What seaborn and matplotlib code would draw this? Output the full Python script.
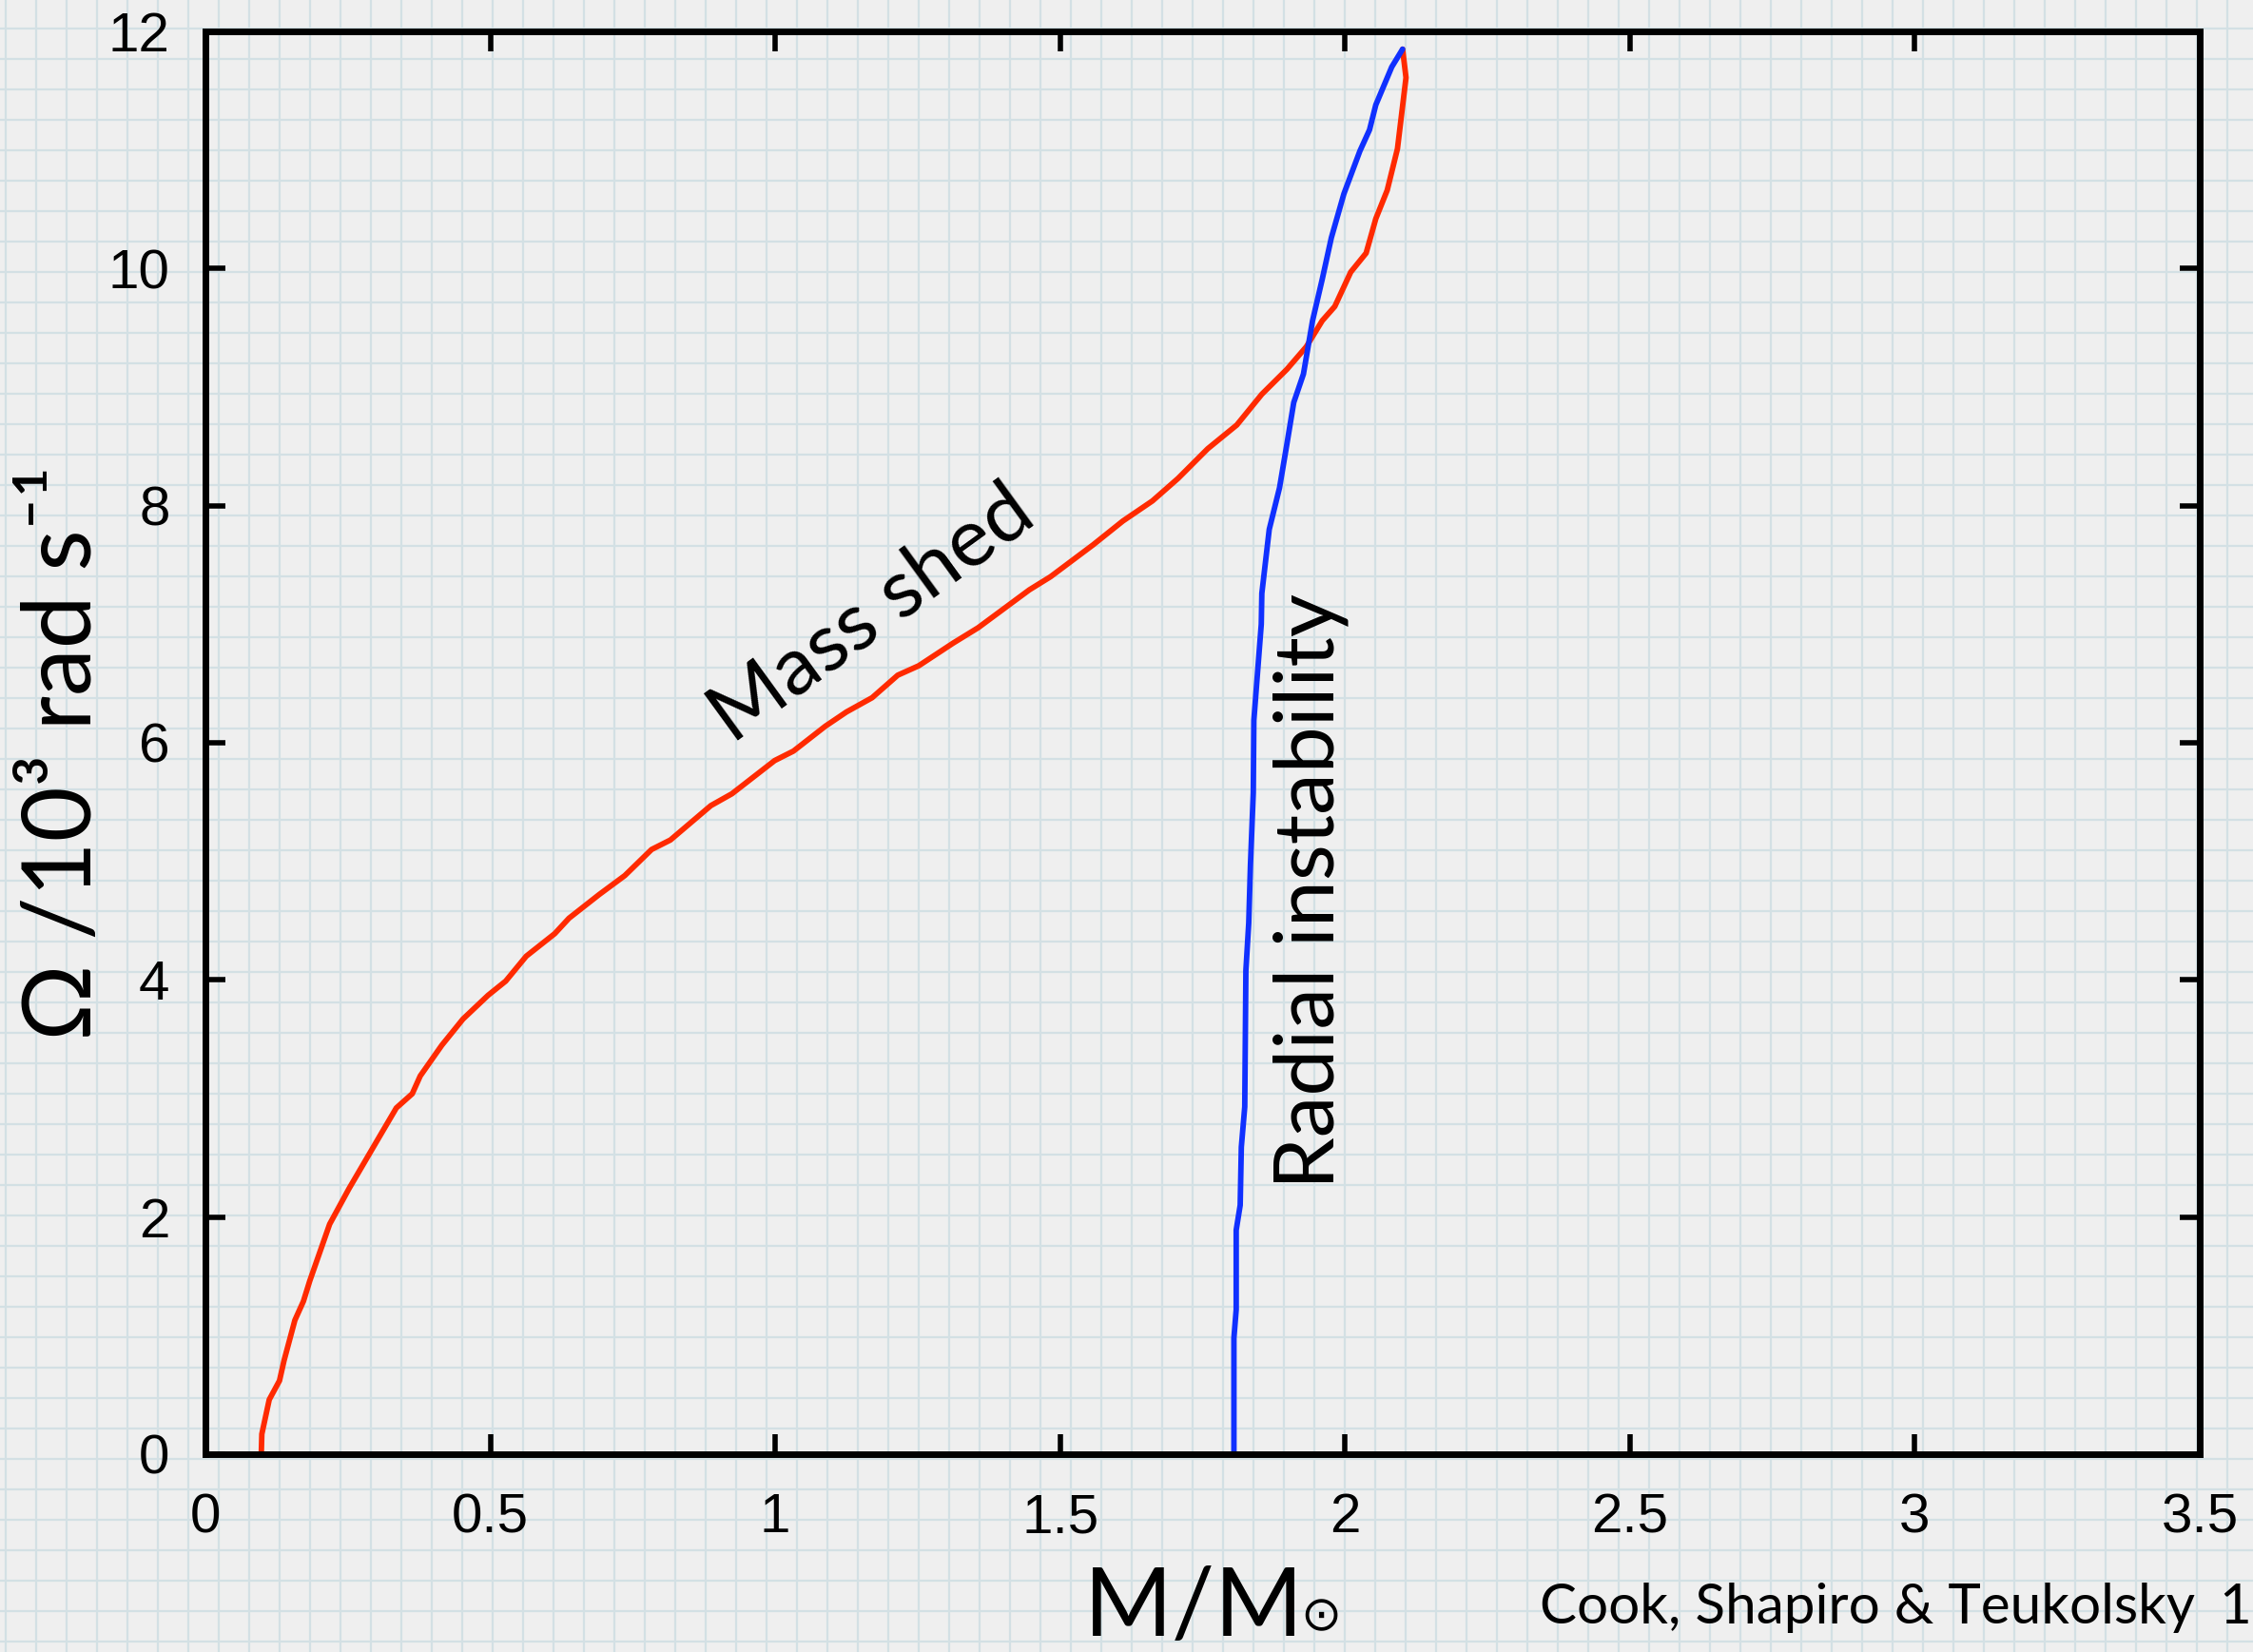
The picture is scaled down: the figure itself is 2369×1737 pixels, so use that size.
import numpy as np
import matplotlib
matplotlib.use("Agg")
import matplotlib.pyplot as plt
import seaborn as sns

# Mass-shedding limit: gravitational mass (solar masses) vs angular velocity (10^3 rad/s)
shed_mass = [0.098, 0.099, 0.112, 0.130, 0.138, 0.157, 0.172, 0.183, 0.218, 0.252,
             0.302, 0.335, 0.363, 0.377, 0.415, 0.452, 0.496, 0.527, 0.563, 0.613,
             0.638, 0.691, 0.736, 0.783, 0.816, 0.887, 0.924, 0.999, 1.032, 1.088,
             1.125, 1.170, 1.215, 1.252, 1.312, 1.356, 1.401, 1.446, 1.483, 1.558,
             1.610, 1.662, 1.707, 1.759, 1.810, 1.854, 1.898, 1.932, 1.960, 1.982,
             2.010, 2.037, 2.054, 2.074, 2.092, 2.107, 2.101]
shed_omega = [0.00, 0.17, 0.46, 0.62, 0.79, 1.13, 1.29, 1.46, 1.94, 2.24,
              2.65, 2.92, 3.04, 3.19, 3.45, 3.67, 3.87, 3.99, 4.20, 4.39,
              4.52, 4.72, 4.88, 5.10, 5.18, 5.47, 5.57, 5.85, 5.93, 6.14,
              6.26, 6.38, 6.57, 6.65, 6.84, 6.97, 7.13, 7.29, 7.40, 7.67,
              7.87, 8.04, 8.23, 8.48, 8.68, 8.94, 9.15, 9.34, 9.56, 9.68,
              9.97, 10.13, 10.42, 10.66, 11.01, 11.61, 11.85]

# Onset of radial (quasi-radial) instability
radial_mass = [1.805, 1.805, 1.809, 1.809, 1.816, 1.818, 1.824, 1.826, 1.831, 1.834,
               1.839, 1.840, 1.853, 1.854, 1.867, 1.885, 1.898, 1.910, 1.927, 1.943,
               1.960, 1.976, 1.998, 2.026, 2.043, 2.054, 2.082, 2.101]
radial_omega = [0.00, 0.98, 1.22, 1.89, 2.10, 2.59, 2.93, 4.08, 4.48, 4.97,
                5.58, 6.19, 7.00, 7.26, 7.80, 8.15, 8.52, 8.87, 9.11, 9.56,
                9.91, 10.26, 10.63, 10.99, 11.17, 11.38, 11.70, 11.85]

x_ticks = [0, 0.5, 1, 1.5, 2, 2.5, 3, 3.5]
x_tick_labels = ["0", "0.5", "1", "1.5", "2", "2.5", "3", "3.5"]
y_ticks = [0, 2, 4, 6, 8, 10, 12]
y_tick_labels = ["0", "2", "4", "6", "8", "10", "12"]

sns.set_theme(style="ticks")
plt.rcParams["font.family"] = ["Lato", "Noto Sans", "DejaVu Sans"]

W, H = 2369, 1737
fig = plt.figure(figsize=(W / 100, H / 100), dpi=100, facecolor="#efefef")

# graph-paper backdrop
bg = fig.add_axes([0, 0, 1, 1], zorder=0)
bg.set_xlim(0, W)
bg.set_ylim(H, 0)
bg.axis("off")
step = 32.0
for gx in np.arange(6.0, W, step):
    bg.axvline(gx, color="#d3e0e4", lw=1.6, zorder=0)
for gy in np.arange(30.0, H, step):
    bg.axhline(gy, color="#d3e0e4", lw=1.6, zorder=0)

left, right, top, bottom = 216 / W, 2313 / W, 33 / H, 1529 / H
ax = fig.add_axes([left, 1 - bottom, right - left, bottom - top], zorder=1)
ax.patch.set_alpha(0)

sns.lineplot(x=shed_mass, y=shed_omega, sort=False, estimator=None,
             color="#ff2a00", lw=4.2, ax=ax)
sns.lineplot(x=radial_mass, y=radial_omega, sort=False, estimator=None,
             color="#1030ff", lw=4.2, ax=ax)

ax.set_xlim(0, 3.5)
ax.set_ylim(0, 12)
ax.set_xticks(x_ticks)
ax.set_xticklabels(x_tick_labels)
ax.set_yticks(y_ticks)
ax.set_yticklabels(y_tick_labels)

for s in ax.spines.values():
    s.set_linewidth(5)
    s.set_color("black")
    s.set_visible(True)

ax.tick_params(which="major", direction="in", length=15, width=4, color="black",
               top=True, right=True, labelsize=42, labelcolor="black")
ax.tick_params(axis="y", pad=27)
ax.tick_params(axis="x", pad=29)
for lab in ax.get_xticklabels() + ax.get_yticklabels():
    lab.set_family("Liberation Sans")

ax.set_ylabel("Ω /10³ rad s⁻¹", fontsize=72, color="black", va="center", ha="center")
ax.yaxis.set_label_coords(-0.0706, 0.4926)

# x label: "M/M" followed by a small solar symbol sitting on the baseline
ax.set_xlabel("M/M", fontsize=72, color="black", va="baseline")
ax.xaxis.set_label_coords(0.4955, -0.1277)
ax.text((1389 - 216) / 2097, (1529 - 1714) / 1496, "⊙", transform=ax.transAxes,
        ha="center", va="baseline", fontsize=37, color="black",
        family="DejaVu Sans")

ax.text(1.170, 7.08, "Mass shed", rotation=36, rotation_mode="anchor",
        ha="center", va="center", fontsize=62, color="black")
ax.text(1.94, 4.75, "Radial instability", rotation=90, rotation_mode="anchor",
        ha="center", va="center", fontsize=63, color="black")

fig.text(1619 / W, 1 - 1707 / H, "Cook, Shapiro & Teukolsky", ha="left",
         va="baseline", fontsize=42, color="black")
fig.text(2350 / W, 1 - 1707 / H, "1", ha="center", va="baseline",
         fontsize=42, color="black")

fig.savefig("out.png", dpi=100, facecolor=fig.get_facecolor())
